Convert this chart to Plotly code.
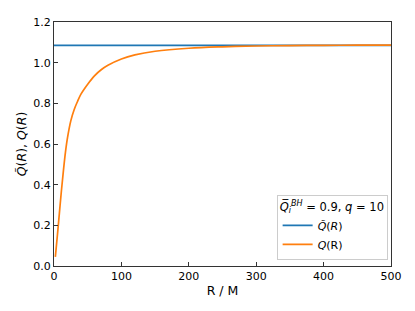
import plotly.graph_objects as go

# Data
R_tilde = [0, 500]
Q_tilde = [1.085, 1.085]

R_vals = [2, 5, 8, 11, 14, 17, 20, 25, 30, 35, 40, 50, 60, 70, 80, 100,
          120, 150, 200, 250, 300, 350, 400, 450, 500]
Q_vals = [0.045, 0.15, 0.26, 0.37, 0.47, 0.56, 0.63, 0.715, 0.77, 0.81,
          0.845, 0.894, 0.935, 0.965, 0.987, 1.018, 1.038, 1.056, 1.071,
          1.078, 1.082, 1.084, 1.085, 1.086, 1.086]

x_ticks = [0, 100, 200, 300, 400, 500]
y_ticks = [0.0, 0.2, 0.4, 0.6, 0.8, 1.0, 1.2]

font_family = "DejaVu Sans"

fig = go.Figure()
fig.add_trace(go.Scatter(
    x=R_tilde, y=Q_tilde, mode="lines",
    line=dict(color="#1f77b4", width=1.7),
    name="<i>Q̃</i>(<i>R</i>)"))
fig.add_trace(go.Scatter(
    x=R_vals, y=Q_vals, mode="lines", line_shape="spline",
    line=dict(color="#ff7f0e", width=1.7, smoothing=1.0),
    name="<i>Q</i>(R)"))

axis_common = dict(
    showgrid=False, zeroline=False, showline=True, mirror=True,
    linecolor="#333333", linewidth=1,
    ticks="inside", ticklen=4, tickwidth=1, tickcolor="#333333",
    tickfont=dict(family=font_family, size=11, color="black"),
)

# page body has an 8px default margin, compensate in figure size/margins
fig.update_layout(
    width=407, height=303,
    margin=dict(l=46, r=24, t=8, b=45),
    paper_bgcolor="white", plot_bgcolor="white",
    font=dict(family=font_family, color="black"),
    xaxis=dict(range=[0, 500], tickvals=x_ticks,
               title=dict(text="R / M", font=dict(size=12.5), standoff=4),
               **axis_common),
    yaxis=dict(range=[0, 1.2], tickvals=y_ticks, tickformat=".1f",
               title=dict(text="<i>Q̃</i>(<i>R</i>), <i>Q</i>(<i>R</i>)",
                          font=dict(size=12.5), standoff=3),
               **axis_common),
    legend=dict(
        x=0.99, y=0.025, xanchor="right", yanchor="bottom",
        bgcolor="white", bordercolor="#cccccc", borderwidth=1,
        font=dict(family=font_family, size=11),
        title=dict(text="<i>Q̅</i><sub><i>i</i></sub><sup><i>BH</i></sup> = 0.9, <i>q</i> = 10",
                   font=dict(family=font_family, size=11.5), side="top"),
        itemwidth=30, tracegroupgap=0,
    ),
    showlegend=True,
)

fig.write_html("out.html")
